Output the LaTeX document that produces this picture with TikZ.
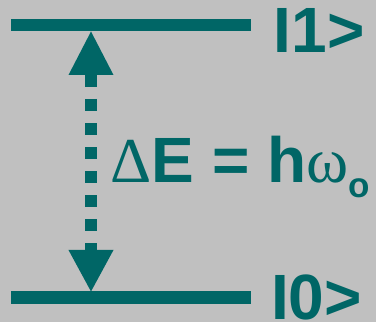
\documentclass[tikz,border=0pt]{standalone}
\usepackage{fontspec}
\setmainfont{Liberation Sans}
\newfontfamily\serifgreek{Liberation Serif}
\definecolor{teal}{RGB}{0,102,102}
\definecolor{bggrey}{RGB}{192,192,192}
\begin{document}
\begin{tikzpicture}[x=1bp,y=1bp,
  level/.style={line width=12bp,color=teal,line cap=butt},
  shaft/.style={line width=12bp,color=teal,dash pattern=on 12bp off 12bp,line cap=butt},
  head/.style={fill=teal,draw=none},
  lab/.style={font=\fontsize{64bp}{64bp}\bfseries\selectfont,text=teal,inner sep=0pt,anchor=base west,text depth=0pt}]
\fill[bggrey] (0,0) rectangle (376,322);
\useasboundingbox (0,0) rectangle (376,322);
% levels
\coordinate (t1) at (11,296.5);
\coordinate (t2) at (251,296.5);
\coordinate (b1) at (11,24.5);
\coordinate (b2) at (251,24.5);
\draw[level] (t1) -- (t2);
\draw[level] (b1) -- (b2);
% arrow
\coordinate (up) at (91,290.5);
\coordinate (upbase) at (91,247);
\coordinate (dn) at (91,30.5);
\coordinate (dnbase) at (91,72);
\draw[shaft] (upbase) -- (dnbase);
\fill[head] (up) -- ([xshift=-22.5bp]upbase) -- ([xshift=22.5bp]upbase) -- cycle;
\fill[head] (dn) -- ([xshift=-22.5bp]dnbase) -- ([xshift=22.5bp]dnbase) -- cycle;
% labels
\node[lab] (k1) at (273.5,269.3) {I1>};
\node[lab] (k0) at (271,2.7) {I0>};
\node[lab] (eq) at (110.5,139.7) {{\serifgreek\mdseries Δ}E = h{\serifgreek\mdseries ω}\raisebox{-15bp}{\fontsize{35bp}{35bp}\selectfont o}};
\end{tikzpicture}
\end{document}
